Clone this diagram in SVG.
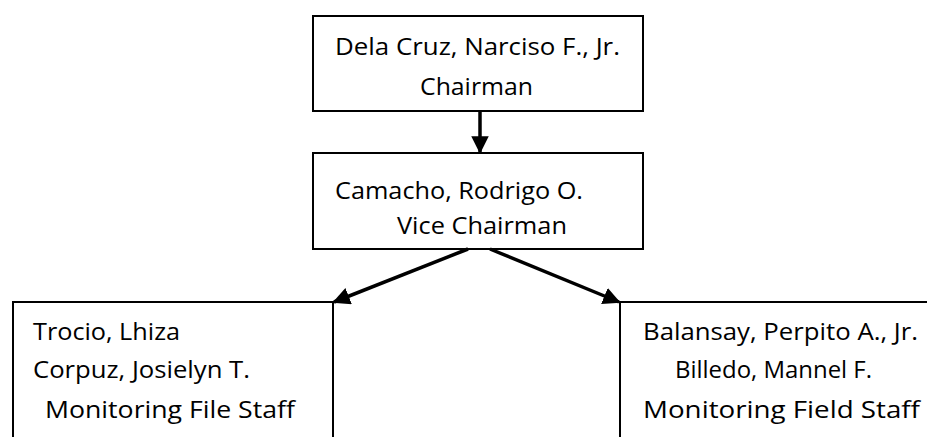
<svg xmlns="http://www.w3.org/2000/svg" width="927" height="437" viewBox="0 0 927 437">
<style>
.box{fill:#fff;stroke:#000;stroke-width:2}
.t{font-family:"Open Sans","Liberation Sans",sans-serif;font-size:23.5px;fill:#000}
.c{stroke:#000;stroke-width:3.5;fill:none}
</style>
<defs>
<marker id="ah" viewBox="0 0 10 10" refX="9" refY="5" markerWidth="5" markerHeight="5" markerUnits="strokeWidth" orient="auto">
<path d="M0,0 L10,5 L0,10 z" fill="#000"/>
</marker>
</defs>
<rect width="927" height="437" fill="#fff"/>
<g id="chairman">
<rect class="box" x="313" y="16" width="330" height="95"/>
<text class="t" x="335" y="55" textLength="285" lengthAdjust="spacingAndGlyphs">Dela Cruz, Narciso F., Jr.</text>
<text class="t" x="420" y="95" textLength="113" lengthAdjust="spacingAndGlyphs">Chairman</text>
</g>
<g id="vice-chairman">
<rect class="box" x="313" y="153" width="330" height="96"/>
<text class="t" x="335" y="199" textLength="248" lengthAdjust="spacingAndGlyphs">Camacho, Rodrigo O.</text>
<text class="t" x="397" y="234" textLength="170" lengthAdjust="spacingAndGlyphs">Vice Chairman</text>
</g>
<g id="file-staff">
<rect class="box" x="13" y="302" width="320" height="150"/>
<text class="t" x="33" y="340" textLength="147" lengthAdjust="spacingAndGlyphs">Trocio, Lhiza</text>
<text class="t" x="33" y="378" textLength="217" lengthAdjust="spacingAndGlyphs">Corpuz, Josielyn T.</text>
<text class="t" x="45" y="418" textLength="250" lengthAdjust="spacingAndGlyphs">Monitoring File Staff</text>
</g>
<g id="field-staff">
<rect class="box" x="620" y="302" width="330" height="150"/>
<text class="t" x="643" y="340" textLength="275" lengthAdjust="spacingAndGlyphs">Balansay, Perpito A., Jr.</text>
<text class="t" x="675" y="378" textLength="197" lengthAdjust="spacingAndGlyphs">Billedo, Mannel F.</text>
<text class="t" x="643" y="418" textLength="277" lengthAdjust="spacingAndGlyphs">Monitoring Field Staff</text>
</g>
<g id="connectors">
<line class="c" x1="480" y1="111" x2="480" y2="152" marker-end="url(#ah)"/>
<line class="c" x1="468" y1="249" x2="334" y2="302" marker-end="url(#ah)"/>
<line class="c" x1="490" y1="249" x2="619" y2="302" marker-end="url(#ah)"/>
</g>
</svg>
